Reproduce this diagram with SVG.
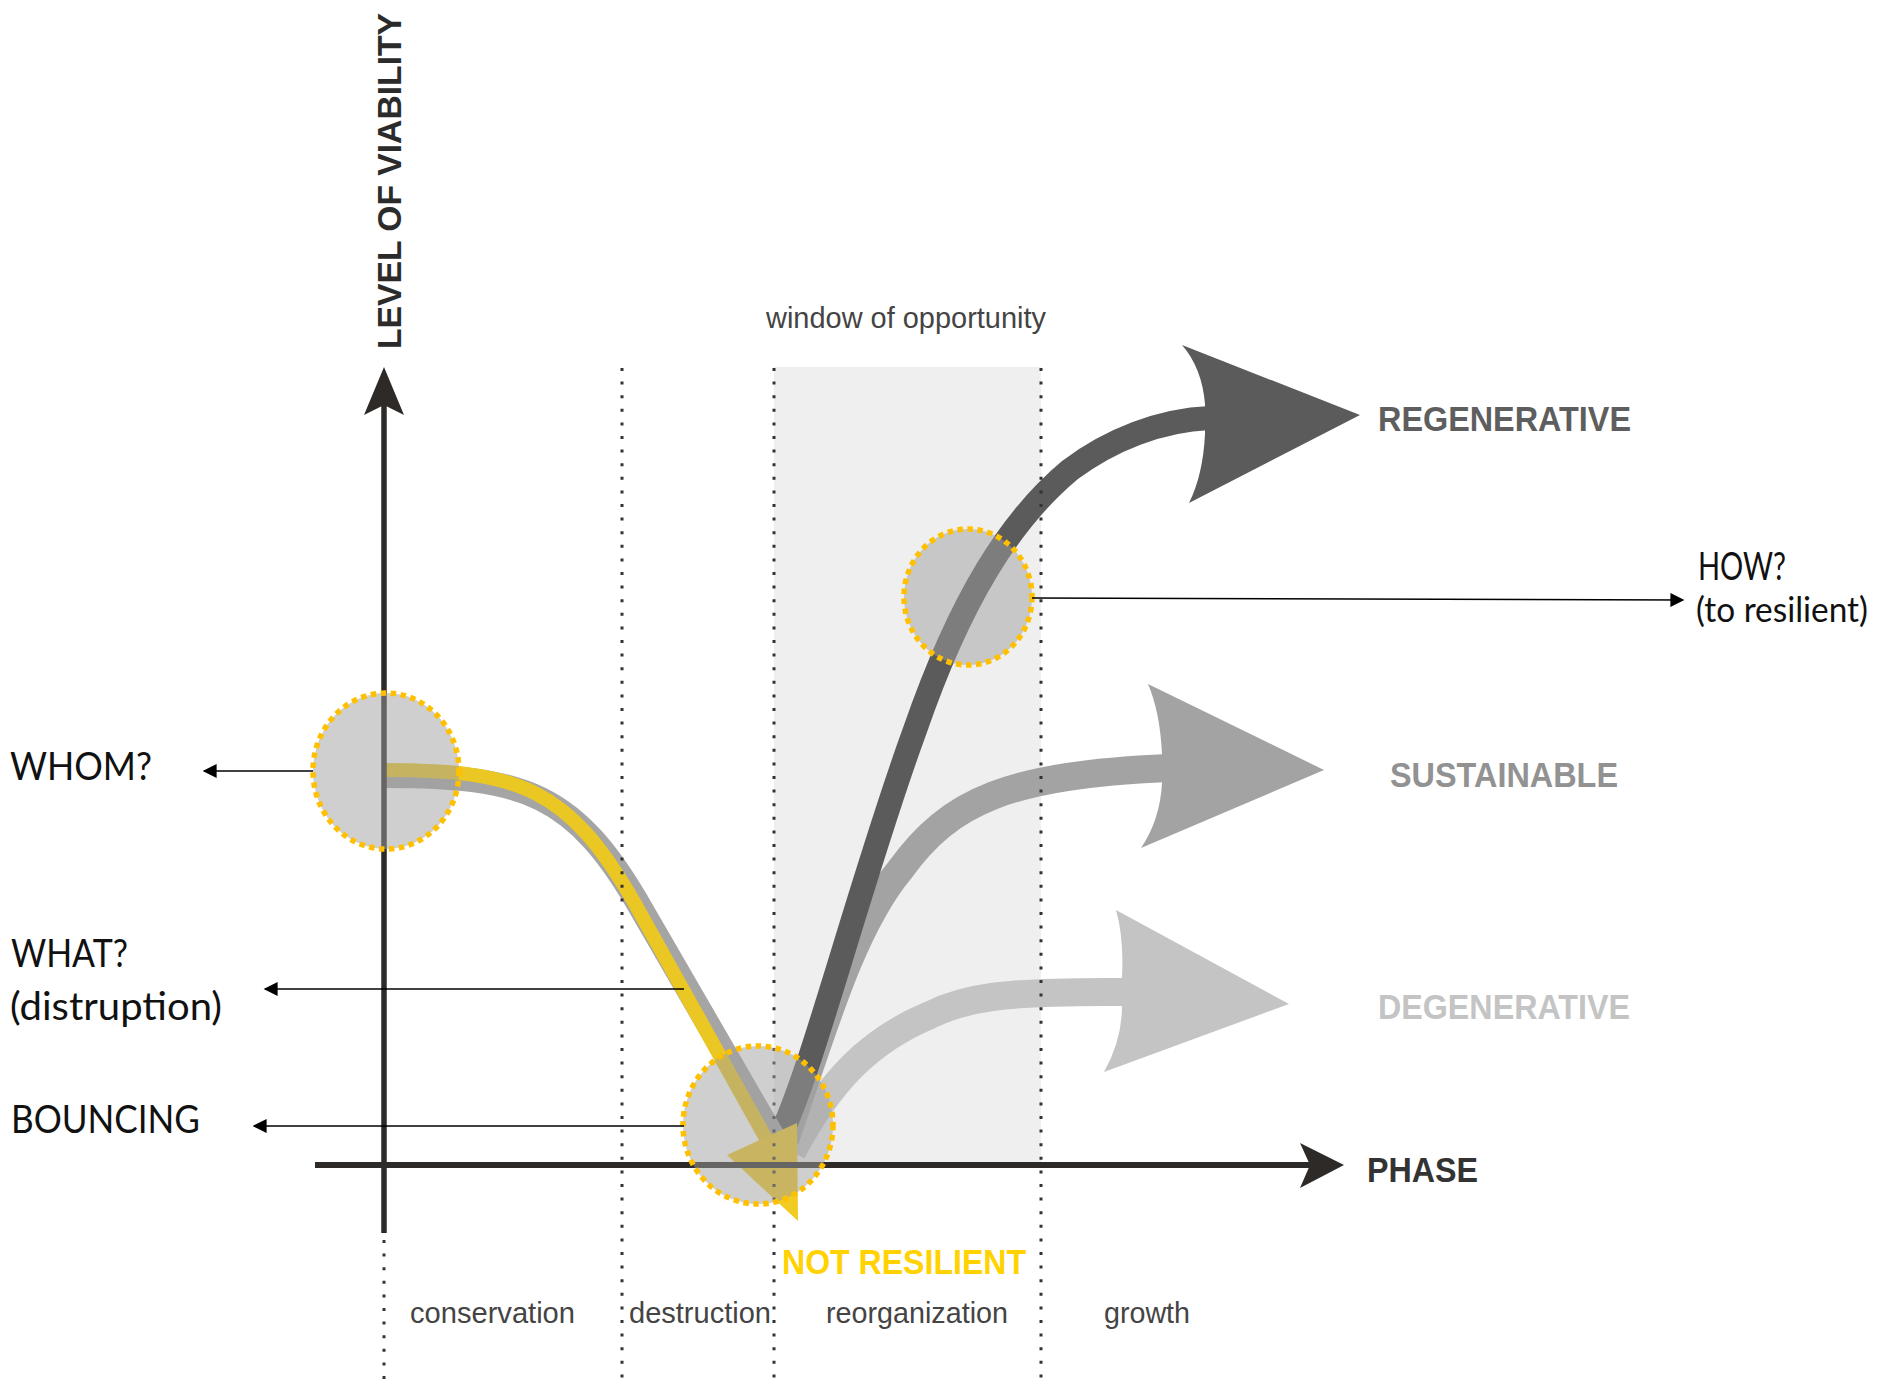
<svg xmlns="http://www.w3.org/2000/svg" width="1887" height="1380" viewBox="0 0 1887 1380">
<style>
.dot{stroke:#333;stroke-width:3;stroke-dasharray:3 10.6;fill:none}
.ring{fill:#a0a0a0;fill-opacity:0.5;stroke:#ffc000;stroke-width:5.5;stroke-dasharray:5.5 4.5}
.thin{stroke:#000;stroke-width:1.6;fill:none}
.q{font-family:Lato,"Open Sans","Liberation Sans",sans-serif;font-size:39px;fill:#111}
.qs{font-family:Lato,"Open Sans","Liberation Sans",sans-serif;font-size:35px;fill:#111}
.ph{font-family:"Liberation Sans",Arial,sans-serif;font-size:29px;fill:#444}
.bd{font-family:"Liberation Sans",Arial,sans-serif;font-weight:bold;font-size:35px}
.band{fill:none;stroke-linecap:butt}
</style>
<defs>
<marker id="ah" viewBox="0 0 10 10" refX="9" refY="5" markerUnits="userSpaceOnUse" markerWidth="16" markerHeight="14" orient="auto">
<path d="M0,0 L10,5 L0,10 z" fill="#000"/>
</marker>
</defs>
<rect width="1887" height="1380" fill="#fff"/>

<g id="window">
<rect x="774" y="367" width="267" height="798" fill="#efefef"/>
<text class="ph" x="766" y="328" textLength="280" lengthAdjust="spacingAndGlyphs">window of opportunity</text>
</g>

<g id="curves">
<!-- degenerative -->
<path class="band" d="M792 1152 C830 1080,870 1040,930 1015 C965 998,1000 991,1125 992" stroke="#c4c4c4" stroke-width="28"/>
<path d="M1116 910 L1289 1004 L1104 1072 Q1122 1040,1122 1006 L1122 978 Q1124 938,1116 910 Z" fill="#c4c4c4"/>
<!-- sustainable -->
<path class="band" d="M785 1140 C820 1040,850 930,900 870 C950 800,1010 775,1168 768" stroke="#a3a3a3" stroke-width="28"/>
<path d="M1148 684 L1324 770 L1141 848 Q1160 820,1162 783 L1162 754 Q1160 712,1148 684 Z" fill="#a3a3a3"/>
<!-- regenerative -->
<path class="band" d="M778 1140 C810 1080,860 880,915 730 C960 600,1010 520,1070 470 C1110 440,1160 420,1210 418" stroke="#5b5b5b" stroke-width="24"/>
<path d="M1182 345 L1360 415 L1189 503 Q1203 475,1205 434 L1205 404 Q1202 368,1182 345 Z" fill="#5b5b5b"/>
<!-- down curve -->
<path class="band" d="M384 776 C525 776,575 792,643 912 L778 1145" stroke="#a5a5a5" stroke-width="24"/>
<path class="band" d="M384 770 C520 770,568 788,634 902 L768 1142" stroke="#eac722" stroke-width="14"/>
<polygon points="727,1155 797,1123 798,1221" fill="#f2cb22"/>
</g>

<g id="axes">
<line x1="384" y1="1233" x2="384" y2="400" stroke="#2e2a27" stroke-width="5.5"/>
<polygon points="384,367 404,415 384,405 364,415" fill="#2e2a27"/>
<line x1="315" y1="1165" x2="1310" y2="1165" stroke="#2e2a27" stroke-width="6"/>
<polygon points="1344,1165 1300,1143 1310,1165 1300,1188" fill="#2e2a27"/>
<text class="bd" transform="translate(401,349) rotate(-90)" style="font-size:34px" fill="#2b2b2b" textLength="336" lengthAdjust="spacingAndGlyphs">LEVEL OF VIABILITY</text>
<text class="bd" x="1367" y="1182" fill="#333" textLength="111" lengthAdjust="spacingAndGlyphs">PHASE</text>
</g>

<g id="phases">
<line class="dot" x1="622" y1="368" x2="622" y2="1380"/>
<line class="dot" x1="774" y1="368" x2="774" y2="1380"/>
<line class="dot" x1="1041" y1="368" x2="1041" y2="1380"/>
<line class="dot" x1="384" y1="1240" x2="384" y2="1380"/>
<text class="ph" x="410" y="1323" textLength="165" lengthAdjust="spacingAndGlyphs">conservation</text>
<text class="ph" x="629" y="1323" textLength="142" lengthAdjust="spacingAndGlyphs">destruction</text>
<text class="ph" x="826" y="1323" textLength="182" lengthAdjust="spacingAndGlyphs">reorganization</text>
<text class="ph" x="1104" y="1323" textLength="86" lengthAdjust="spacingAndGlyphs">growth</text>
</g>

<g id="node-whom">
<ellipse class="ring" cx="386" cy="771" rx="73" ry="78"/>
<text class="q" x="10" y="780" textLength="142" lengthAdjust="spacingAndGlyphs">WHOM?</text>
</g>
<g id="node-bouncing">
<ellipse class="ring" cx="758" cy="1125" rx="75" ry="79"/>
<text class="q" x="11" y="1133" textLength="189" lengthAdjust="spacingAndGlyphs">BOUNCING</text>
</g>
<g id="node-what">
<text class="q" x="11" y="967" textLength="117" lengthAdjust="spacingAndGlyphs">WHAT?</text>
<text class="q" x="10" y="1020" textLength="212" lengthAdjust="spacingAndGlyphs">(distruption)</text>
</g>
<g id="node-how">
<ellipse class="ring" cx="968" cy="597" rx="64" ry="68"/>
<text class="q" x="1698" y="580" textLength="88" lengthAdjust="spacingAndGlyphs">HOW?</text>
<text class="qs" x="1696" y="622" textLength="172" lengthAdjust="spacingAndGlyphs">(to resilient)</text>
</g>
<g id="node-outcomes">
<text class="bd" x="1378" y="431" fill="#5e5e5e" textLength="253" lengthAdjust="spacingAndGlyphs">REGENERATIVE</text>
<text class="bd" x="1390" y="787" fill="#929292" textLength="228" lengthAdjust="spacingAndGlyphs">SUSTAINABLE</text>
<text class="bd" x="1378" y="1019" fill="#c4c4c4" textLength="252" lengthAdjust="spacingAndGlyphs">DEGENERATIVE</text>
<text class="bd" x="782" y="1274" fill="#ffd200" textLength="244" lengthAdjust="spacingAndGlyphs">NOT RESILIENT</text>
</g>

<g id="connectors">
<line class="thin" x1="313" y1="771" x2="204" y2="771" marker-end="url(#ah)"/>
<line class="thin" x1="684" y1="989" x2="265" y2="989" marker-end="url(#ah)"/>
<line class="thin" x1="684" y1="1126" x2="254" y2="1126" marker-end="url(#ah)"/>
<line class="thin" x1="1032" y1="598" x2="1683" y2="600" marker-end="url(#ah)"/>
</g>
</svg>
